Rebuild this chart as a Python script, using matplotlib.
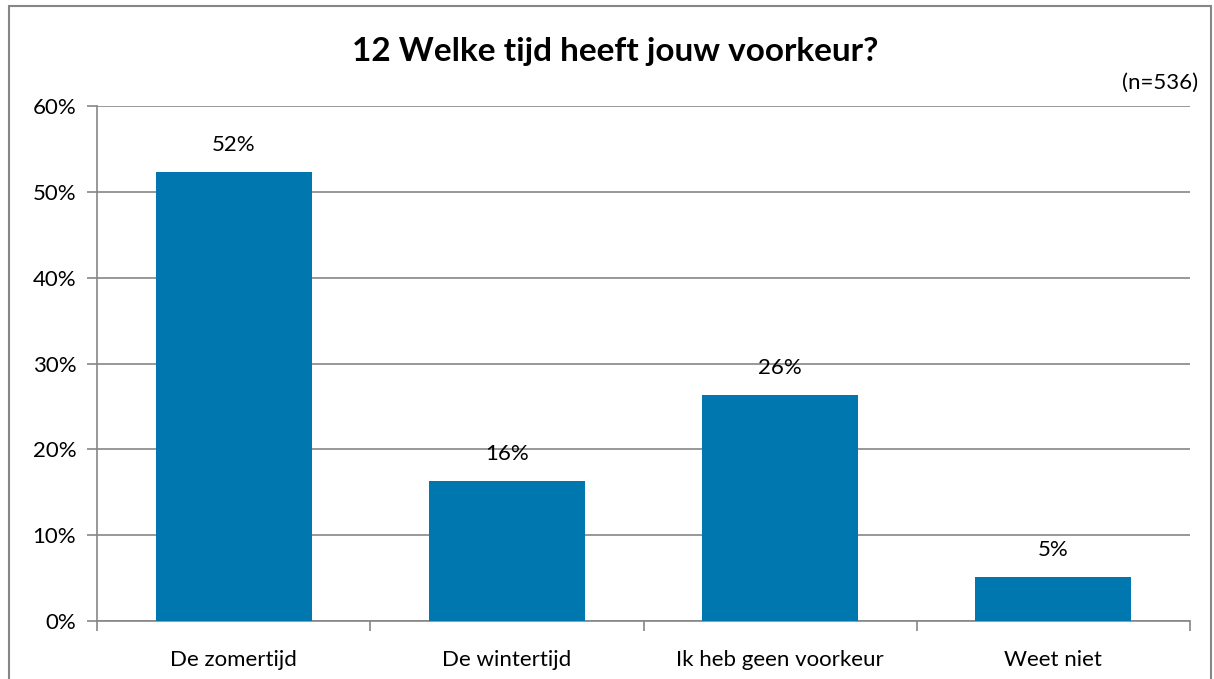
import matplotlib.pyplot as plt
from matplotlib.patches import Rectangle
from matplotlib.ticker import FuncFormatter, FixedLocator
import numpy as np

plt.rcParams["font.family"] = ["Lato", "DejaVu Sans"]

categories = ["De zomertijd", "De wintertijd", "Ik heb geen voorkeur", "Weet niet"]
shares = [52.3, 16.3, 26.3, 5.1]
labels = ["52%", "16%", "26%", "5%"]

bar_color = "#0077AE"
gray = "#868686"

fig = plt.figure(figsize=(12.14, 6.79), dpi=100)
ax = fig.add_axes([97 / 1214, 1 - 621 / 679, (1190 - 97) / 1214, (621 - 106) / 679])

x = np.arange(len(categories))
ax.bar(x, shares, width=0.57, color=bar_color, zorder=3)

for xi, v, lab in zip(x, shares, labels):
    ax.text(xi, v + 2.0, lab, ha="center", va="bottom", fontsize=16)

ax.set_xlim(-0.5, len(categories) - 0.5)
ax.set_ylim(0, 60)
ax.set_yticks(np.arange(0, 61, 10))
ax.yaxis.set_major_formatter(FuncFormatter(lambda v, p: f"{v:.0f}%"))
ax.set_xticks(x)
ax.set_xticklabels(categories, fontsize=16)
ax.xaxis.set_minor_locator(FixedLocator(np.arange(-0.5, len(categories), 1.0)))
ax.tick_params(axis="x", which="major", length=0, pad=21)
ax.tick_params(axis="x", which="minor", length=7, color=gray, width=1.2)
ax.tick_params(axis="y", length=7, color=gray, width=1.2, labelsize=16, pad=8)

ax.grid(axis="y", color=gray, linewidth=1.2, zorder=0)
for side in ["top", "right"]:
    ax.spines[side].set_visible(False)
for side in ["left", "bottom"]:
    ax.spines[side].set_color(gray)
    ax.spines[side].set_linewidth(1.2)

fig.text(615 / 1214, 1 - 52 / 679, "12 Welke tijd heeft jouw voorkeur?",
         ha="center", va="center", fontsize=24, fontweight="bold")
fig.text(1198 / 1214, 1 - 83 / 679, "(n=536)", ha="right", va="center", fontsize=16)

fig.patches.append(Rectangle((9 / 1214, -0.05), (1211 - 9) / 1214, 1.05 - 6 / 679,
                             transform=fig.transFigure, fill=False,
                             edgecolor=gray, linewidth=1.5))

fig.savefig("out.png", dpi=100)
